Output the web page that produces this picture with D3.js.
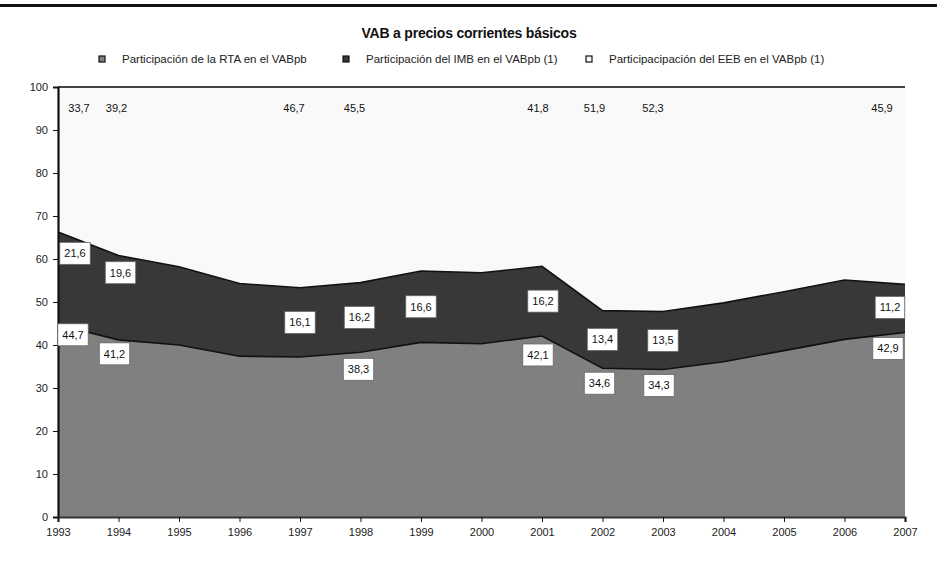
<!DOCTYPE html>
<html>
<head>
<meta charset="utf-8">
<script src="https://cdn.jsdelivr.net/npm/d3@7"></script>
<style>
	body { margin: 0; background: #fff; }
	svg { display: block; font-family: "Liberation Sans", Arial, sans-serif; }
	.tick text { font-size: 11px; fill: #222; }
	.lbl { font-size: 11px; fill: #111; }
</style>
</head>
<body>
<svg id="chart"></svg>
<script>
// years on the x axis
const years = [1993, 1994, 1995, 1996, 1997, 1998, 1999, 2000, 2001, 2002, 2003, 2004, 2005, 2006, 2007];
// share of RTA, IMB and EEB in VABpb (%)
const rta = [44.7, 41.2, 40.0, 37.4, 37.2, 38.3, 40.6, 40.3, 42.1, 34.6, 34.3, 36.1, 38.7, 41.3, 42.9];
const imb = [21.6, 19.6, 18.2, 16.9, 16.1, 16.2, 16.6, 16.5, 16.2, 13.4, 13.5, 13.7, 13.7, 13.8, 11.2];
const eeb = [33.7, 39.2, 41.8, 45.7, 46.7, 45.5, 42.8, 43.2, 41.8, 51.9, 52.3, 50.2, 47.6, 44.9, 45.9];
const seriesNames = [
	"Participación de la RTA en el VABpb",
	"Participación del IMB en el VABpb (1)",
	"Participacipación del EEB en el VABpb (1)"
];
const yTicks = [0, 10, 20, 30, 40, 50, 60, 70, 80, 90, 100];

// which years get a value label
const rtaLabelYears = [1993, 1994, 1998, 2001, 2002, 2003, 2007];
const imbLabelYears = [1993, 1994, 1997, 1998, 1999, 2001, 2002, 2003, 2007];
const eebLabelYears = [1993, 1994, 1997, 1998, 2001, 2002, 2003, 2007];

// label nudges in px (layout only)
const rtaNudge = { 1993: [15, 10], 1994: [-4, 14], 1998: [-2, 17], 2001: [-4, 19], 2002: [-3, 15], 2003: [-4, 16], 2007: [-17, 16] };
const imbNudge = { 1993: [17, -25], 1994: [2, -25], 1997: [0, 0], 1998: [-1, 0], 1999: [0, 0], 2001: [1, 0], 2002: [0, 0], 2003: [0, 0], 2007: [-15, -1] };
const eebNudge = { 1993: [21, 0], 1994: [-2, 0], 1997: [-6, 0], 1998: [-6, 0], 2001: [-4, 0], 2002: [-8, 0], 2003: [-10, 0], 2007: [-23, 0] };

const colors = ["#808080", "#383838", "#f9f9f9"];

const W = 937, H = 563;
const margin = { top: 87, right: 32, bottom: 46, left: 58 };
const width = W - margin.left - margin.right;
const height = H - margin.top - margin.bottom;

const root = d3.select("#chart").attr("width", W).attr("height", H);

// rule at the very top
root.append("rect").attr("x", 0).attr("y", 4).attr("width", W).attr("height", 3).attr("fill", "#111");

root.append("text")
	.attr("x", 469).attr("y", 38)
	.attr("text-anchor", "middle")
	.style("font-size", "14px").style("font-weight", "bold").style("fill", "#111")
	.style("letter-spacing", "-0.2px")
	.text("VAB a precios corrientes básicos");

// legend
const legendX = [102, 346, 589];
seriesNames.forEach(function (name, i) {
	const g = root.append("g").attr("transform", "translate(" + legendX[i] + ",59)");
	g.append("rect").attr("x", -3).attr("y", -3).attr("width", 6).attr("height", 6)
		.attr("fill", colors[i]).attr("stroke", "#111").attr("stroke-width", 1.2);
	g.append("text").attr("x", 20).attr("dy", ".35em")
		.style("font-size", "11.5px").style("fill", "#222").text(name);
});

const svg = root.append("g").attr("transform", "translate(" + margin.left + "," + margin.top + ")");

const x = d3.scaleLinear().domain([years[0], years[years.length - 1]]).range([0, width]);
const y = d3.scaleLinear().domain([0, 100]).range([height, 0]);

const table = years.map(function (yr, i) { return { year: yr, rta: rta[i], imb: imb[i], eeb: eeb[i] }; });
const stack = d3.stack().keys(["rta", "imb", "eeb"]);
const layers = stack(table);

svg.append("clipPath").attr("id", "plotclip")
	.append("rect").attr("width", width).attr("height", height);

const area = d3.area()
	.x(function (d) { return x(d.data.year); })
	.y0(function (d) { return y(d[0]); })
	.y1(function (d) { return y(Math.min(d[1], 100)); });

svg.append("g").attr("clip-path", "url(#plotclip)")
	.selectAll("path")
	.data(layers)
	.join("path")
	.attr("fill", function (d, i) { return colors[i]; })
	.attr("d", area);

// boundary lines
const boundary = d3.line()
	.x(function (d) { return x(d.data.year); })
	.y(function (d) { return y(d[1]); });
[layers[0], layers[1]].forEach(function (l) {
	svg.append("path").datum(l)
		.attr("fill", "none").attr("stroke", "#111").attr("stroke-width", 1.6)
		.attr("d", boundary);
});
svg.append("line").attr("x1", 0).attr("x2", width).attr("y1", 0).attr("y2", 0)
	.attr("stroke", "#444").attr("stroke-width", 2);

// axes
const yAxis = svg.append("g")
	.call(d3.axisLeft(y).tickValues(yTicks).tickSize(5).tickPadding(5).tickFormat(d3.format("d")));
yAxis.select(".domain").attr("stroke", "#111").attr("stroke-width", 2.2);
yAxis.selectAll(".tick line").attr("stroke", "#111");

const xAxis = svg.append("g")
	.attr("transform", "translate(0," + height + ")")
	.call(d3.axisBottom(x).tickValues(years).tickSize(5).tickPadding(6).tickFormat(d3.format("d")));
xAxis.select(".domain").attr("stroke", "#333").attr("stroke-width", 2.2);
xAxis.selectAll(".tick line").attr("stroke", "#111");

const fmt = function (v) { return d3.format(".1f")(v).replace(".", ","); };

function boxLabel(cx, cy, v, boxed) {
	const g = svg.append("g").attr("transform", "translate(" + cx + "," + cy + ")");
	const t = g.append("text").attr("class", "lbl").attr("text-anchor", "middle").attr("dy", ".35em").text(fmt(v));
	if (boxed) {
		const w = t.node().getComputedTextLength() + 9;
		g.insert("rect", "text")
			.attr("x", -w / 2).attr("y", -11).attr("width", w).attr("height", 22)
			.attr("fill", "#fff").attr("stroke", "#666").attr("stroke-width", 0.8);
	}
}

rtaLabelYears.forEach(function (yr) {
	const i = years.indexOf(yr);
	const n = rtaNudge[yr];
	boxLabel(x(yr) + n[0], y(rta[i]) + n[1], rta[i], true);
});
imbLabelYears.forEach(function (yr) {
	const i = years.indexOf(yr);
	const n = imbNudge[yr];
	boxLabel(x(yr) + n[0], y(rta[i] + imb[i] / 2) + n[1], imb[i], true);
});
eebLabelYears.forEach(function (yr) {
	const i = years.indexOf(yr);
	const n = eebNudge[yr];
	boxLabel(x(yr) + n[0], y(95) + n[1], eeb[i], false);
});
</script>
</body>
</html>
